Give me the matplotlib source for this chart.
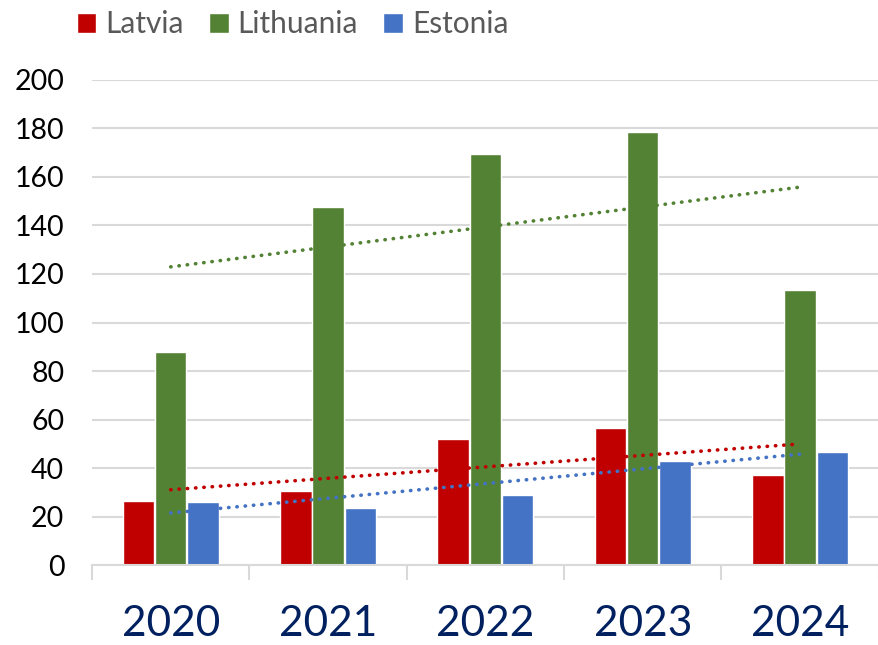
import numpy as np
from matplotlib import pyplot as plt

years = ["2020", "2021", "2022", "2023", "2024"]
latvia = [26.4, 30.5, 52.0, 56.5, 37.0]
lithuania = [87.8, 147.6, 169.5, 178.6, 113.4]
estonia = [26.0, 23.5, 28.9, 42.9, 46.6]

series = [
    ("Latvia", latvia, "#C00000"),
    ("Lithuania", lithuania, "#548235"),
    ("Estonia", estonia, "#4472C4"),
]

plt.rcParams["font.family"] = ["Lato", "DejaVu Sans"]

fig = plt.figure(figsize=(8.79, 6.45), dpi=100)
ax = fig.add_axes([0.1047, 0.124, 0.895, 0.752])

x = np.arange(len(years))
width = 0.2
offsets = [-0.205, 0.0, 0.205]

for (name, vals, color), off in zip(series, offsets):
    ax.bar(x + off, vals, width, color=color, edgecolor="white", linewidth=1.0,
           label=name, zorder=2)

# linear trend lines
for name, vals, color in series:
    k, b = np.polyfit(x, vals, 1)
    ax.plot(x, k * x + b, color=color, linewidth=2.6, linestyle=(0, (0.1, 2.2)),
            dash_capstyle="round", zorder=3)

ax.set_xlim(-0.5, len(years) - 0.5)
ax.set_ylim(0, 200)
ax.set_yticks(range(0, 201, 20))
ax.tick_params(axis="y", length=0, pad=20, labelsize=20.5, labelcolor="black")
ax.grid(axis="y", color="#D9D9D9", linewidth=1.5, zorder=0)
ax.set_axisbelow(True)

ax.set_xticks(x)
ax.set_xticklabels(years)
ax.tick_params(axis="x", which="major", length=0, pad=29, labelsize=30.5, labelcolor="#002060")
ax.set_xticks(np.arange(-0.5, len(years), 1.0), minor=True)
ax.tick_params(axis="x", which="minor", length=11, width=1.5, color="#D9D9D9")

for s in ["top", "right", "left"]:
    ax.spines[s].set_visible(False)
ax.spines["bottom"].set_color("#D9D9D9")
ax.spines["bottom"].set_linewidth(1.5)

fig.legend(loc="upper left", bbox_to_anchor=(0.057, 1.026), ncol=3, frameon=False,
           fontsize=21.5, labelcolor="#595959", handlelength=0.65, handleheight=0.65,
           handletextpad=0.3, columnspacing=0.85)

fig.savefig("out.png", dpi=100)
